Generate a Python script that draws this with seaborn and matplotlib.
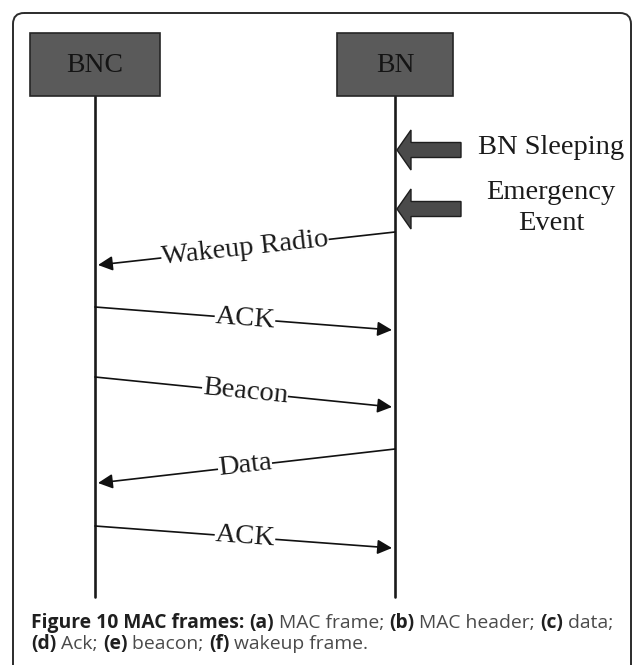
import numpy as np
import pandas as pd
import matplotlib
matplotlib.use("Agg")
import matplotlib.pyplot as plt
from matplotlib.patches import FancyBboxPatch, Rectangle, FancyArrow
import seaborn as sns

# participants (lifelines) and the messages exchanged between them
participants = ["BNC", "BN"]
msg_labels = ["Wakeup Radio", "ACK", "Beacon", "Data", "ACK"]
msg_src = ["BN", "BNC", "BNC", "BN", "BNC"]
msg_dst = ["BNC", "BN", "BN", "BNC", "BN"]
msg_t_send = [232, 307, 377, 449, 526]
msg_t_recv = [265, 330, 407, 483, 548]

# events marked on the BN lifeline
event_labels = ["BN Sleeping", "Emergency\nEvent"]
event_t = [150, 209]

caption_parts = [
    [("Figure 10 MAC frames: ", True), ("(a)", True), (" MAC frame; ", False),
     ("(b)", True), (" MAC header; ", False), ("(c)", True), (" data;", False)],
    [("(d)", True), (" Ack; ", False), ("(e)", True), (" beacon; ", False),
     ("(f)", True), (" wakeup frame.", False)],
]

sns.set_theme(style="white")
plt.rcParams["font.family"] = ["Liberation Serif", "DejaVu Serif"]

W, H = 634, 665
fig = plt.figure(figsize=(W / 100, H / 100), dpi=100)
ax = fig.add_axes([0, 0, 1, 1])

xpos = {"BNC": 95, "BN": 395}
box_w = {"BNC": 130, "BN": 116}
box_top, box_bot = 33, 96
life_end = 597

# lifelines
life = pd.DataFrame({
    "who": np.repeat(participants, 2),
    "x": [xpos[p] for p in participants for _ in range(2)],
    "t": [box_bot, life_end] * len(participants),
})
sns.lineplot(data=life, x="x", y="t", units="who", estimator=None, sort=False,
             color="#1a1a1a", lw=1.9, ax=ax, legend=False)
ax.set_xlim(0, W)
ax.set_ylim(H, 0)
ax.axis("off")

# outer frame (open at the bottom)
frame = FancyBboxPatch((13, 13), 618, 720, boxstyle="round,pad=0,rounding_size=11",
                       fill=False, ec="#2b2b2b", lw=1.4, clip_on=True)
ax.add_patch(frame)

# participant boxes
for p in participants:
    bw = box_w[p]
    ax.add_patch(Rectangle((xpos[p] - bw / 2, box_top), bw, box_bot - box_top,
                           fc="#5a5a5a", ec="#262626", lw=1.2, zorder=3))
    ax.text(xpos[p], (box_top + box_bot) / 2 + 1, p, ha="center", va="center",
            fontsize=20, color="#141414", zorder=4)

# thick event arrows pointing at BN
for lab, t in zip(event_labels, event_t):
    ax.add_patch(FancyArrow(461, t, -64, 0, width=15, head_width=40, head_length=14,
                            length_includes_head=True, fc="#4a4a4a", ec="#1e1e1e",
                            lw=1.0, zorder=3))
    ax.text(551, t - 3 if "\n" not in lab else t - 1, lab, ha="center", va="center",
            fontsize=20.5, color="#1a1a1a", linespacing=1.3)

# messages
for lab, s, d, t0, t1 in zip(msg_labels, msg_src, msg_dst, msg_t_send, msg_t_recv):
    x0, x1 = xpos[s], xpos[d]
    tip = x1 + (3 if x1 < x0 else -3)
    ax.annotate("", xy=(tip, t1), xytext=(x0, t0),
                arrowprops=dict(arrowstyle="-|>", color="#111111", lw=1.2,
                                mutation_scale=22, shrinkA=0, shrinkB=0))
    ang = np.degrees(np.arctan2(-(t1 - t0), x1 - x0))
    if ang > 90:
        ang -= 180
    elif ang < -90:
        ang += 180
    xm, tm = (x0 + x1) / 2, (t0 + t1) / 2
    ax.text(xm, tm, lab, ha="center", va="center", rotation=ang,
            rotation_mode="anchor", fontsize=20.5, color="#1a1a1a",
            bbox=dict(fc="white", ec="none", pad=0.3), zorder=5)

# caption with bold / regular runs, laid out run by run
renderer = fig.canvas.get_renderer()
cap_y = [628, 649]
for line, y in zip(caption_parts, cap_y):
    x = 31
    for txt, bold in line:
        t = ax.text(x, y, txt, fontsize=13.9, family=["Open Sans", "DejaVu Sans"],
                    fontweight="bold" if bold else "normal",
                    color="#1f1f1f" if bold else "#4a4a4a", va="baseline", ha="left")
        bb = t.get_window_extent(renderer)
        x += bb.width * W / fig.bbox.width

fig.savefig("out.png", dpi=100)
